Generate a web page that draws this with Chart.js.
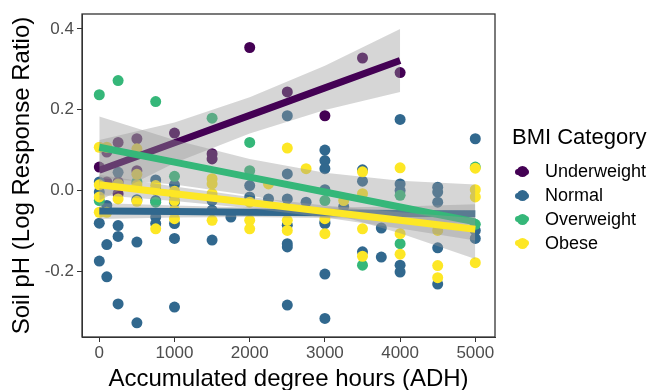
<!DOCTYPE html>
<html lang="en">
<head>
<meta charset="UTF-8">
<title>Soil pH vs ADH</title>
<script src="https://cdn.jsdelivr.net/npm/chart.js"></script>
<style>
*{margin:0;padding:0;box-sizing:border-box;}
body{background:#fff;font-family:'Liberation Sans',Arial,sans-serif;}
.wrap{position:relative;width:655px;height:390px;}
.legend{position:absolute;left:512px;top:124px;color:#000;}
.legend h3{font-size:22px;font-weight:400;line-height:26px;margin-bottom:10px;}
.item{display:flex;align-items:center;height:23.8px;font-size:18px;}
.key{position:relative;width:14px;height:6px;border-radius:3px;margin:0 16px 0 3px;}
.key::after{content:'';position:absolute;left:1.5px;top:-2.5px;width:11px;height:11px;border-radius:50%;background:inherit;}
</style>
</head>
<body>
<div class="wrap">
    <canvas id="chart" width="655" height="390"></canvas>
    <div class="legend" id="legend"><h3>BMI Category</h3></div>
</div>
<script>
// axis ticks
const adhTicks=[0,1000,2000,3000,4000,5000];
const phTicks=[-0.2,0,0.2,0.4];
const categories=['Underweight','Normal','Overweight','Obese'];
const colors=['#440154','#31688E','#35B779','#FDE725'];

// raw points
const underweightX=[0,100,100,250,250,250,500,500,1000,1500,1500,2000,2500,3000,3500,4000];
const underweightY=[0.058,0.095,0.021,0.119,0.021,-0.008,0.128,0.049,0.142,0.091,0.078,0.354,0.244,0.185,0.328,0.292];

const normalX=[0,0,0,0,100,100,100,250,250,250,250,500,500,500,750,750,750,750,750,1000,1000,1000,1000,1000,1000,1500,1500,1500,1750,2000,2000,2250,2500,2500,2500,2500,2500,2500,2500,2750,3000,3000,3000,3000,3000,3000,3000,3000,3250,3500,3500,3500,3750,3750,4000,4000,4000,4000,4000,4500,4500,4500,4500,4500,5000,5000,5000];
const normalY=[0.021,-0.004,-0.081,-0.175,-0.037,-0.134,-0.214,0.045,-0.087,-0.114,-0.281,-0.023,-0.128,-0.328,0.026,0.002,-0.025,-0.066,-0.082,0.014,-0.012,-0.029,-0.082,-0.119,-0.289,-0.025,-0.049,-0.123,-0.066,0.012,-0.016,-0.021,0.185,0.041,-0.021,-0.086,-0.132,-0.14,-0.284,-0.029,0.10,0.074,0.054,0.002,-0.078,-0.082,-0.207,-0.317,-0.04,0.051,0.023,-0.152,-0.093,-0.165,0.176,0.016,0.0,-0.185,-0.202,0.008,-0.004,-0.029,-0.142,-0.232,0.128,-0.099,-0.119];

const overweightX=[0,0,250,500,750,750,1000,1500,2000,2000,3000,3500,4000,4000,5000,5000];
const overweightY=[0.237,-0.025,0.272,0.021,0.22,-0.029,0.035,0.179,0.119,0.049,-0.025,-0.185,-0.012,-0.132,0.058,-0.084];

const obeseX=[0,0,0,0,100,100,250,250,500,500,500,500,750,750,1000,1000,1000,1000,1500,1500,1500,1500,2000,2000,2000,2250,2500,2500,2500,2750,3000,3000,3250,3500,3500,3500,3500,4000,4000,4000,4500,4500,4500,5000,5000,5000,5000];
const obeseY=[0.107,0.014,-0.016,-0.054,0.107,-0.054,0.016,-0.021,0.103,0.04,0.014,-0.027,0.012,-0.095,-0.002,-0.025,-0.049,-0.07,0.029,0.016,-0.008,-0.074,-0.029,-0.074,-0.095,0.016,0.105,-0.074,-0.099,0.054,-0.07,-0.107,-0.025,0.046,-0.008,-0.095,-0.163,0.056,-0.107,-0.158,-0.099,-0.186,-0.216,0.055,0.002,-0.016,-0.179];

// fitted lines and confidence bands
const underweightFitX=[0,1000,2000,3000,4000];
const underweightFit=[0.050,0.118,0.186,0.254,0.322];
const underweightLow=[-0.025,0.068,0.141,0.199,0.244];
const underweightHigh=[0.125,0.168,0.231,0.309,0.400];

const fitX=[0,1000,2000,3000,4000,5000];
const normalFit=[-0.051,-0.052,-0.054,-0.055,-0.057,-0.058];
const normalLow=[-0.071,-0.067,-0.066,-0.068,-0.074,-0.082];
const normalHigh=[-0.031,-0.037,-0.042,-0.042,-0.040,-0.034];
const overweightFit=[0.107,0.070,0.033,-0.004,-0.041,-0.078];
const overweightLow=[0.031,0.015,-0.012,-0.052,-0.106,-0.170];
const overweightHigh=[0.183,0.125,0.078,0.044,0.024,0.015];
const obeseFit=[0.014,-0.008,-0.030,-0.052,-0.074,-0.096];
const obeseLow=[-0.011,-0.026,-0.044,-0.067,-0.094,-0.124];
const obeseHigh=[0.039,0.010,-0.016,-0.037,-0.054,-0.068];

function pts(xs,ys){return xs.map((x,i)=>({x:x,y:ys[i]}));}

const series=[
    {x:underweightX,y:underweightY,fx:underweightFitX,fit:underweightFit,lo:underweightLow,hi:underweightHigh},
    {x:normalX,y:normalY,fx:fitX,fit:normalFit,lo:normalLow,hi:normalHigh},
    {x:overweightX,y:overweightY,fx:fitX,fit:overweightFit,lo:overweightLow,hi:overweightHigh},
    {x:obeseX,y:obeseY,fx:fitX,fit:obeseFit,lo:obeseLow,hi:obeseHigh}
];

const datasets=[];
series.forEach((s,i)=>{
    datasets.push({label:categories[i],data:pts(s.x,s.y),backgroundColor:colors[i],borderColor:colors[i],borderWidth:0,pointRadius:5.5,pointHoverRadius:5.5});
});
series.forEach((s,i)=>{
    const n=datasets.length;
    datasets.push({label:categories[i]+' hi',data:pts(s.fx,s.hi),showLine:true,pointRadius:0,borderColor:'rgba(0,0,0,0)',borderWidth:1,backgroundColor:'rgba(153,153,153,0.4)',fill:n+1});
    datasets.push({label:categories[i]+' lo',data:pts(s.fx,s.lo),showLine:true,pointRadius:0,borderColor:'rgba(0,0,0,0)',borderWidth:1,fill:false});
    datasets.push({label:categories[i]+' fit',data:pts(s.fx,s.fit),showLine:true,pointRadius:0,borderColor:colors[i],borderWidth:7,fill:false});
});
// later in the list = drawn on top
datasets.forEach((d,i)=>{d.order=datasets.length-i;});

const panelBorder={
    id:'panelBorder',
    afterDraw(chart){
        const a=chart.chartArea,ctx=chart.ctx;
        ctx.save();
        ctx.strokeStyle='#333';
        ctx.lineWidth=1.3;
        ctx.strokeRect(a.left,a.top,a.right-a.left,a.bottom-a.top);
        ctx.restore();
    }
};

Chart.defaults.font.family="'Liberation Sans', Arial, sans-serif";

new Chart(document.getElementById('chart'),{
    type:'scatter',
    data:{datasets:datasets},
    options:{
        responsive:false,
        animation:false,
        layout:{padding:{left:8,top:14,right:160,bottom:0}},
        plugins:{legend:{display:false},tooltip:{enabled:false}},
        scales:{
            x:{
                type:'linear',min:-230,max:5262,
                afterBuildTicks:s=>{s.ticks=adhTicks.map(v=>({value:v}));},
                afterFit:s=>{s.height=53;},
                ticks:{font:{size:17},color:'#4d4d4d',padding:1,maxRotation:0,callback:v=>String(v)},
                grid:{drawOnChartArea:false,drawTicks:true,tickLength:5,tickColor:'#333'},
                border:{display:true,color:'#333'},
                title:{display:true,text:'Accumulated degree hours (ADH)',font:{size:24},color:'#000',padding:{top:0,bottom:-4}}
            },
            y:{
                type:'linear',min:-0.363,max:0.437,
                afterBuildTicks:s=>{s.ticks=phTicks.map(v=>({value:v}));},
                afterFit:s=>{s.width=74;},
                ticks:{font:{size:17},color:'#4d4d4d',padding:3,callback:v=>v.toFixed(1)},
                grid:{drawOnChartArea:false,drawTicks:true,tickLength:5,tickColor:'#333'},
                border:{display:true,color:'#333'},
                title:{display:true,text:'Soil pH (Log Response Ratio)',font:{size:24},color:'#000',padding:{top:0,bottom:0}}
            }
        }
    },
    plugins:[panelBorder]
});

const legend=document.getElementById('legend');
categories.forEach((c,i)=>{
    const row=document.createElement('div');
    row.className='item';
    row.innerHTML='<span class="key" style="background:'+colors[i]+'"></span>'+c;
    legend.appendChild(row);
});
</script>
</body>
</html>
